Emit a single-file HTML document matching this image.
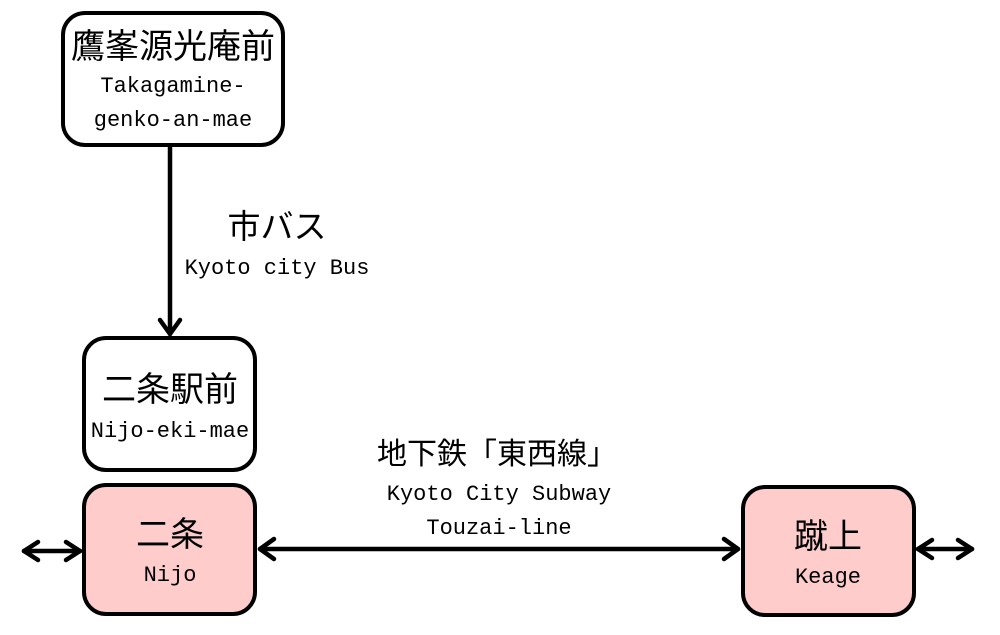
<!DOCTYPE html>
<html><head><meta charset="utf-8"><style>
html,body{margin:0;padding:0;background:#fff;}
svg{display:block;}
.j{font-family:"Liberation Sans","Noto Sans CJK JP",sans-serif;fill:#000;}
.m{font-family:"Liberation Mono","DejaVu Sans Mono",monospace;fill:#000;}
</style></head><body>
<svg width="1000" height="635" viewBox="0 0 1000 635" xmlns="http://www.w3.org/2000/svg">
<g stroke="#000" stroke-width="4.5" stroke-linecap="round" stroke-linejoin="round" fill="none">
  <!-- vertical bus arrow -->
  <line x1="170" y1="146" x2="170" y2="334"/>
  <polyline points="160,320 170,334 180,320"/>
  <!-- subway line -->
  <line x1="260" y1="549" x2="738" y2="549"/>
  <polyline points="274,539 260,549 274,559"/>
  <polyline points="724,539 738,549 724,559"/>
  <!-- left small -->
  <line x1="24" y1="551" x2="80" y2="551"/>
  <polyline points="38,542 24,551 38,560"/>
  <polyline points="66,542 80,551 66,560"/>
  <!-- right small -->
  <line x1="918" y1="549" x2="972" y2="549"/>
  <polyline points="932,540 918,549 932,558"/>
  <polyline points="958,540 972,549 958,558"/>
</g>
<g stroke="#000" stroke-width="4">
  <rect x="63" y="13" width="220" height="132" rx="22" fill="#fff"/>
  <rect x="84" y="338" width="171" height="132" rx="22" fill="#fff"/>
  <rect x="84" y="485" width="171" height="129" rx="22" fill="#ffcccc"/>
  <rect x="743" y="487" width="171" height="128" rx="22" fill="#ffcccc"/>
</g>
<text class="j" x="173" y="58" font-size="34" text-anchor="middle">鷹峯源光庵前</text>
<text class="m" x="173" y="92" font-size="22" text-anchor="middle">Takagamine-</text>
<text class="m" x="173" y="126" font-size="22" text-anchor="middle">genko-an-mae</text>

<text class="j" x="277" y="238" font-size="33" text-anchor="middle">市バス</text>
<text class="m" x="277" y="274" font-size="22" text-anchor="middle">Kyoto city Bus</text>

<text class="j" x="170" y="401" font-size="34" text-anchor="middle">二条駅前</text>
<text class="m" x="170" y="437" font-size="22" text-anchor="middle">Nijo-eki-mae</text>

<text class="j" x="170" y="546" font-size="34" text-anchor="middle">二条</text>
<text class="m" x="170" y="581" font-size="22" text-anchor="middle">Nijo</text>

<text class="j" x="828" y="548" font-size="34" text-anchor="middle">蹴上</text>
<text class="m" x="828" y="583" font-size="22" text-anchor="middle">Keage</text>

<text class="j" x="497" y="464" font-size="30" text-anchor="middle">地下鉄「東西線」</text>
<text class="m" x="499" y="500" font-size="22" text-anchor="middle">Kyoto City Subway</text>
<text class="m" x="499" y="534" font-size="22" text-anchor="middle">Touzai-line</text>
</svg>
</body></html>
